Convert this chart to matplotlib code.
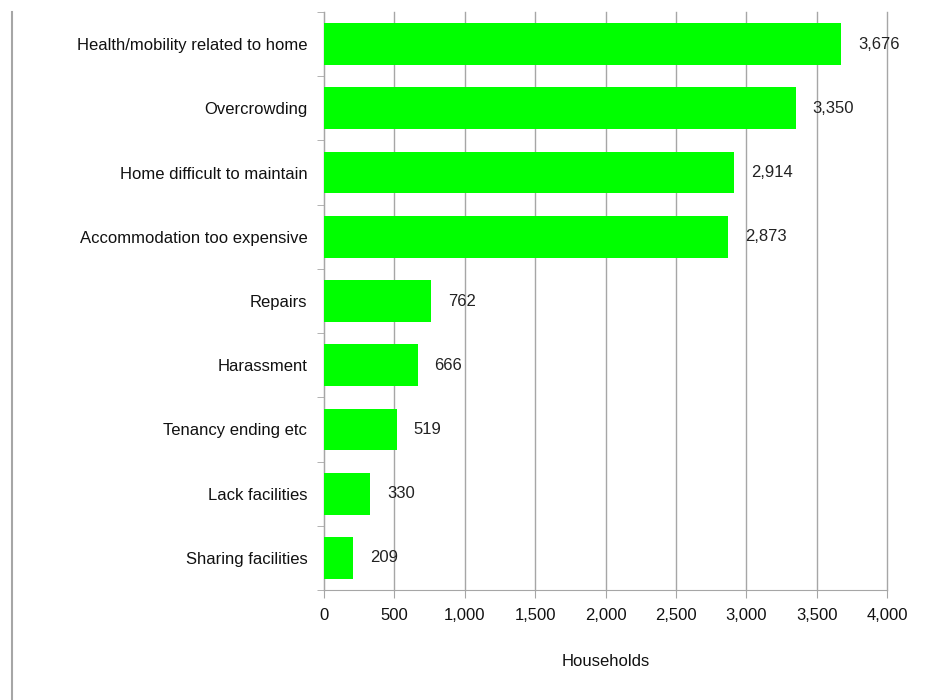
import matplotlib.pyplot as plt
from matplotlib.lines import Line2D
from matplotlib.ticker import FuncFormatter, MultipleLocator, FixedLocator

plt.rcParams['font.family'] = ['Liberation Sans', 'DejaVu Sans']

reasons = ['Health/mobility related to home', 'Overcrowding', 'Home difficult to maintain',
           'Accommodation too expensive', 'Repairs', 'Harassment', 'Tenancy ending etc',
           'Lack facilities', 'Sharing facilities']
households = [3676, 3350, 2914, 2873, 762, 666, 519, 330, 209]

fig = plt.figure(figsize=(9.27, 7.0), dpi=100)
ax = fig.add_axes([0.3495, 0.157, 0.6074, 0.826])

ypos = list(range(len(reasons)))[::-1]
ax.barh(ypos, households, height=0.65, color='#00FF00', zorder=3)

for y, v in zip(ypos, households):
    ax.annotate(f'{v:,}', (v, y), xytext=(12, 0), textcoords='offset points',
                va='center', ha='left', fontsize=12, color='#222222', zorder=4)

ax.set_xlim(0, 4000)
ax.set_ylim(-0.5, len(reasons) - 0.5)
ax.xaxis.set_major_locator(MultipleLocator(500))
ax.xaxis.set_major_formatter(FuncFormatter(lambda x, p: f'{int(x):,}'))
ax.grid(axis='x', color='#A6A6A6', linewidth=1, zorder=0)
for gl in ax.get_xgridlines():
    gl.set_clip_on(False)

ax.set_yticks(ypos)
ax.set_yticklabels(reasons)
ax.yaxis.set_minor_locator(FixedLocator([i - 0.5 for i in range(len(reasons) + 1)]))
ax.tick_params(axis='y', which='major', length=0, pad=12, labelsize=12, labelcolor='#111111')
ax.tick_params(axis='y', which='minor', length=5, color='#A6A6A6')
ax.tick_params(axis='x', length=6, color='#A6A6A6', labelsize=12, labelcolor='#111111', pad=7)

for s in ['top', 'right']:
    ax.spines[s].set_visible(False)
for s in ['left', 'bottom']:
    ax.spines[s].set_color('#A6A6A6')

ax.set_xlabel('Households', fontsize=12, labelpad=22, color='#111111')

# left border line of the original frame
fig.add_artist(Line2D([12 / 927, 12 / 927], [0, 1 - 12 / 700], transform=fig.transFigure,
                      color='#A6A6A6', linewidth=1.5))

fig.savefig('out.png', dpi=100)
